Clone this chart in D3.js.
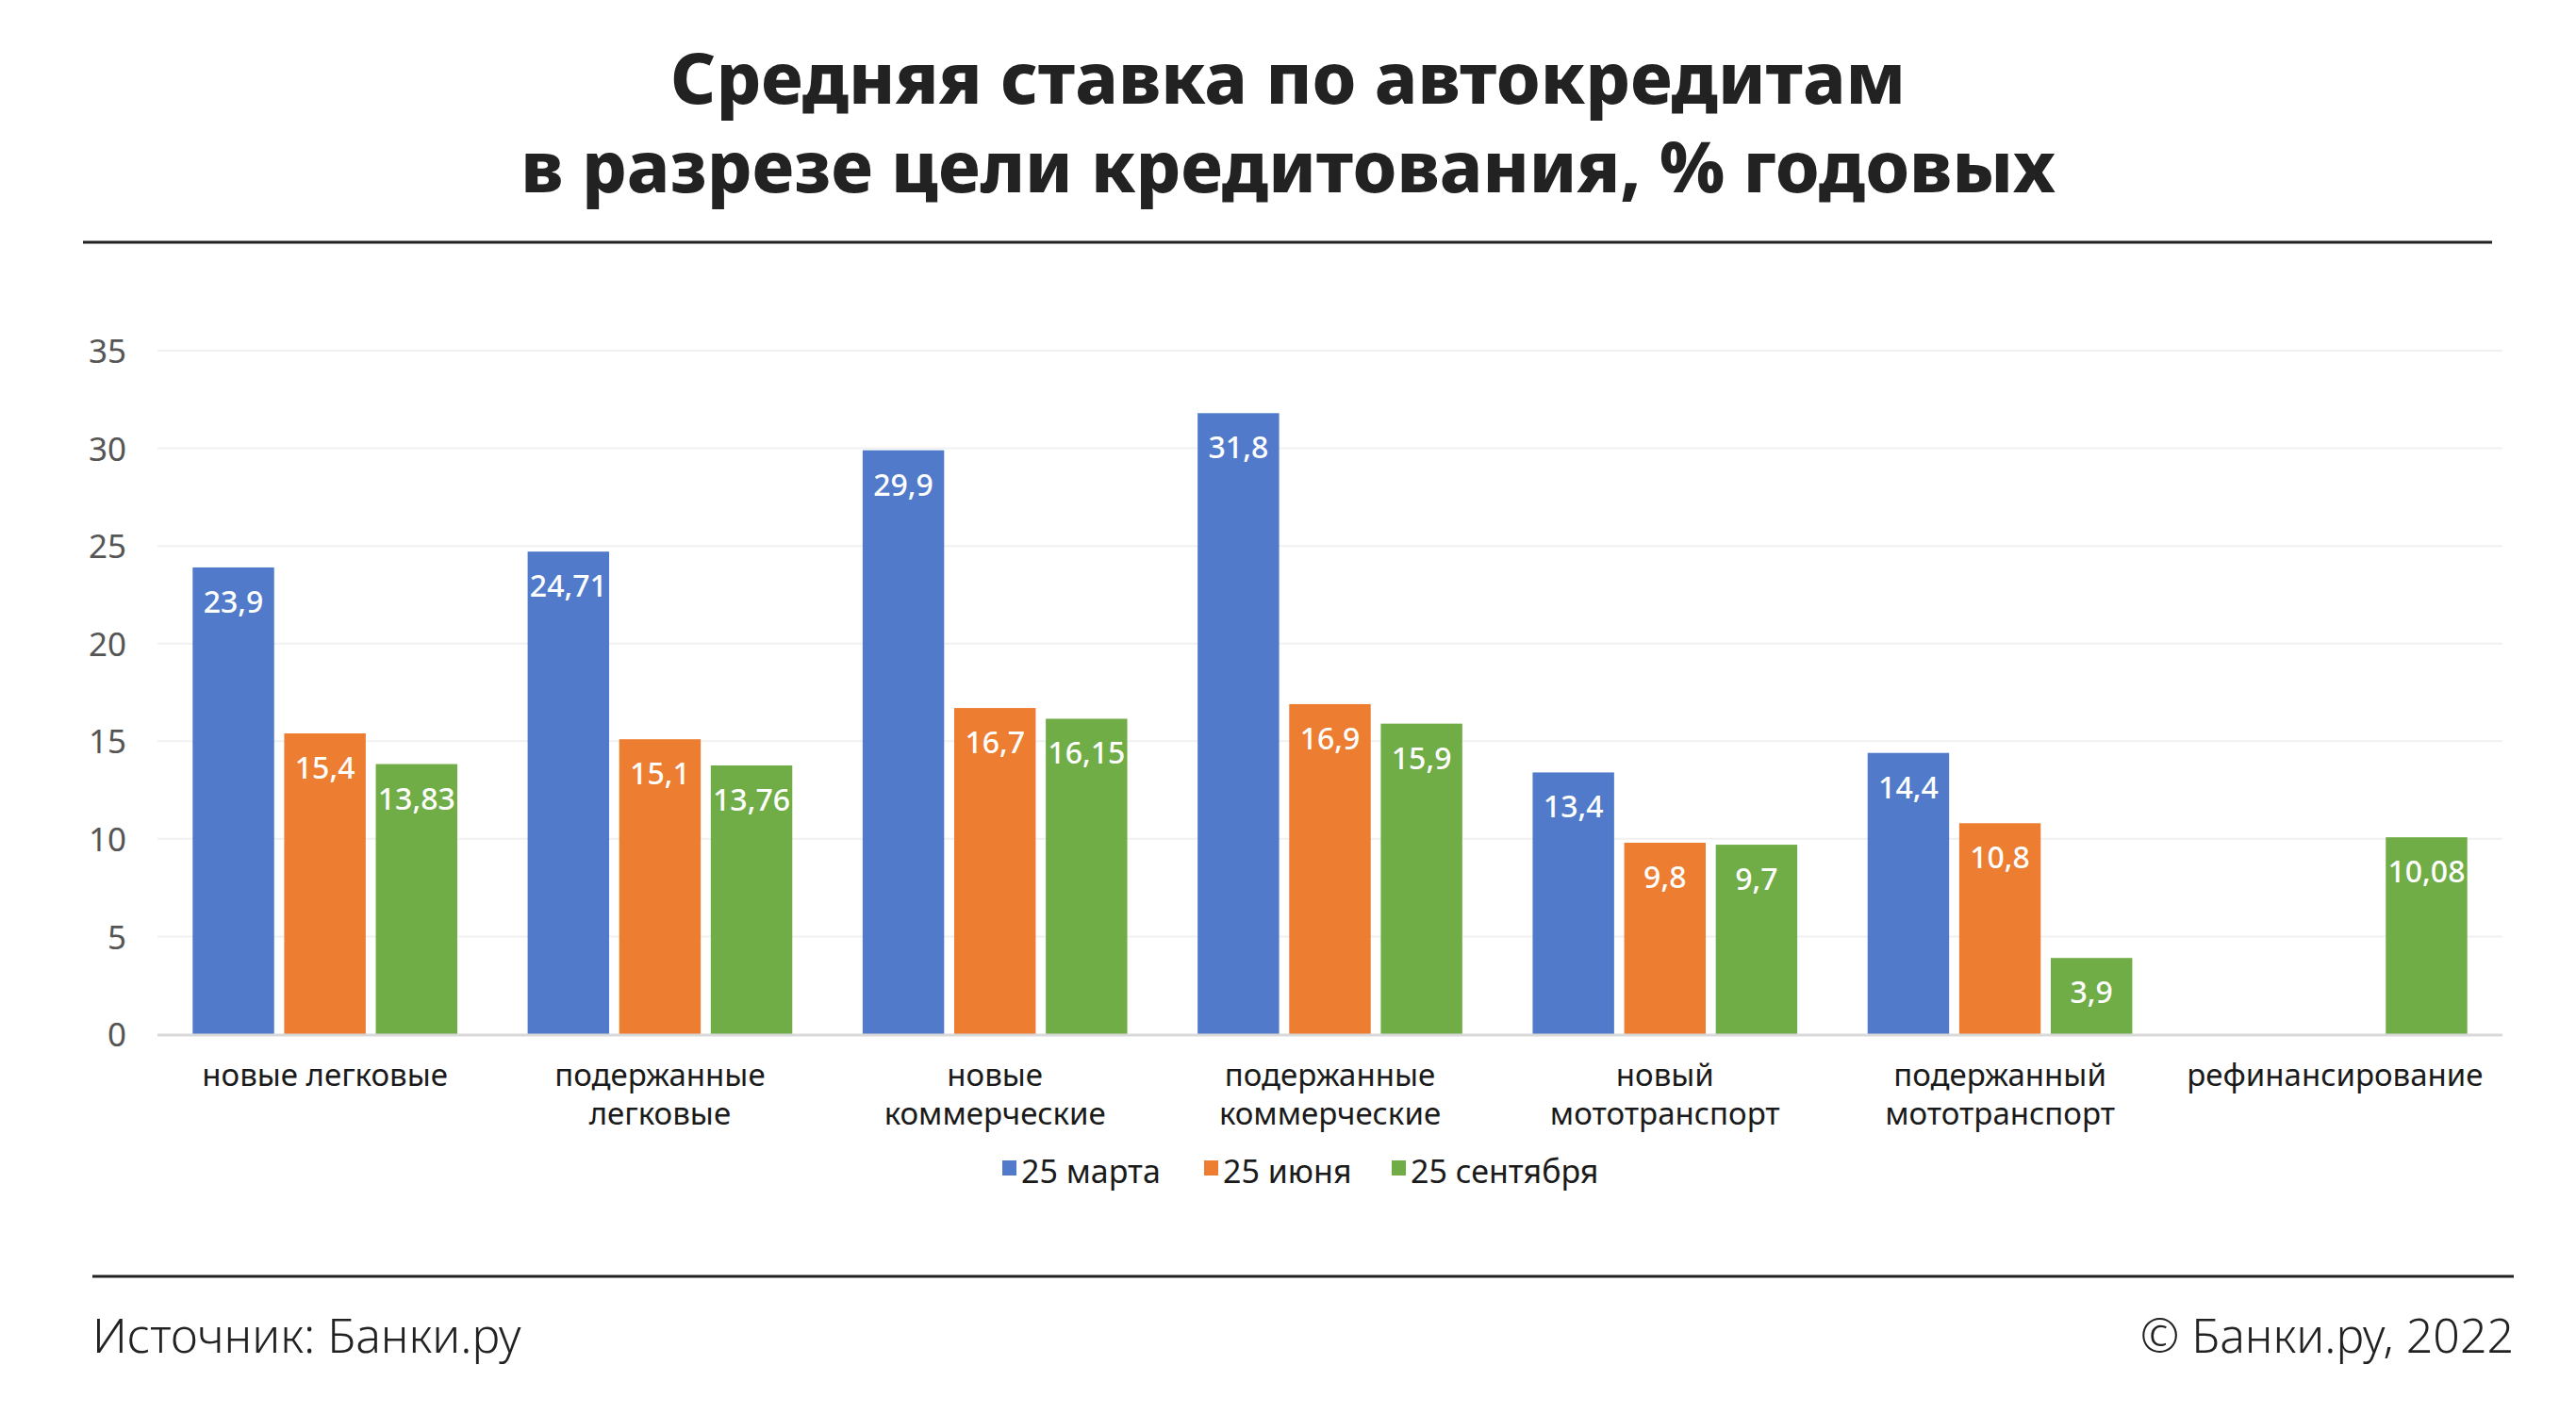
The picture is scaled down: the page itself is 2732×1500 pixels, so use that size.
<!DOCTYPE html>
<html>
<head>
<meta charset="utf-8">
<script src="https://cdn.jsdelivr.net/npm/d3@7"></script>
<style>
  html, body { margin: 0; padding: 0; background: #fff; }
  svg { display: block; }
</style>
</head>
<body>
<svg id="chart" width="2732" height="1500"></svg>
<script>
const titleLines = ["Средняя ставка по автокредитам", "в разрезе цели кредитования, % годовых"];
const categories = [
  ["новые легковые"],
  ["подержанные", "легковые"],
  ["новые", "коммерческие"],
  ["подержанные", "коммерческие"],
  ["новый", "мототранспорт"],
  ["подержанный", "мототранспорт"],
  ["рефинансирование"]
];
const seriesNames = ["25 марта", "25 июня", "25 сентября"];
const seriesColors = ["#517BCA", "#ED7D31", "#70AD47"];
const march = [23.9, 24.71, 29.9, 31.8, 13.4, 14.4, null];
const june = [15.4, 15.1, 16.7, 16.9, 9.8, 10.8, null];
const september = [13.83, 13.76, 16.15, 15.9, 9.7, 3.9, 10.08];
const yTicks = [0, 5, 10, 15, 20, 25, 30, 35];
const sourceText = "Источник: Банки.ру";
const copyrightText = "© Банки.ру, 2022";

const seriesValues = [march, june, september];
const FONT = "'Noto Sans', 'DejaVu Sans', sans-serif";
const svg = d3.select("#chart");

// Title
const titleG = svg.append("g");
titleLines.forEach((t, i) => {
  titleG.append("text")
    .attr("x", 1366).attr("y", 110 + i * 94)
    .attr("text-anchor", "middle")
    .attr("font-family", FONT)
    .attr("font-weight", 800)
    .attr("font-size", 75)
    .attr("fill", "#222")
    .text(t);
});
svg.append("line").attr("x1", 88).attr("x2", 2643).attr("y1", 257).attr("y2", 257)
  .attr("stroke", "#222").attr("stroke-width", 3);

// Scales
const x0 = d3.scaleBand().domain(d3.range(categories.length)).range([167, 2654])
  .paddingInner(0.21).paddingOuter(0.105);
const x1 = d3.scaleBand().domain(d3.range(seriesNames.length)).range([0, x0.bandwidth()])
  .paddingInner(0.11);
const y = d3.scaleLinear().domain([0, 35]).range([1097, 372]);

// Grid
svg.append("g").selectAll("line").data(yTicks.filter(d => d > 0)).join("line")
  .attr("x1", 167).attr("x2", 2654)
  .attr("y1", d => y(d)).attr("y2", d => y(d))
  .attr("stroke", "#f1f1f1").attr("stroke-width", 2);

// Y axis labels
const yAxis = d3.axisLeft(y).tickValues(yTicks).tickSize(0).tickPadding(0);
const yg = svg.append("g").attr("transform", "translate(134,0)").call(yAxis);
yg.select(".domain").remove();
yg.selectAll("text")
  .attr("font-family", FONT).attr("font-size", 35).attr("fill", "#555")
  .attr("dy", "0.36em");

// Bars
const data = [];
categories.forEach((c, ci) => {
  seriesValues.forEach((arr, si) => {
    if (arr[ci] != null) data.push({ ci, si, v: arr[ci] });
  });
});
const barsG = svg.append("g");
barsG.selectAll("rect").data(data).join("rect")
  .attr("x", d => x0(d.ci) + x1(d.si))
  .attr("width", x1.bandwidth())
  .attr("y", d => y(d.v))
  .attr("height", d => y(0) - y(d.v))
  .attr("fill", d => seriesColors[d.si]);

barsG.selectAll("text").data(data).join("text")
  .attr("x", d => x0(d.ci) + x1(d.si) + x1.bandwidth() / 2)
  .attr("y", d => y(d.v) + 48)
  .attr("text-anchor", "middle")
  .attr("font-family", FONT).attr("font-weight", 500).attr("font-size", 32)
  .attr("fill", "#fff")
  .text(d => String(d.v).replace(".", ","));

// Baseline
svg.append("line").attr("x1", 167).attr("x2", 2654).attr("y1", y(0) + 1).attr("y2", y(0) + 1)
  .attr("stroke", "#d9d9d9").attr("stroke-width", 3);

// Category labels (one text element per line)
const catG = svg.append("g");
const catLines = [];
categories.forEach((lines, ci) => lines.forEach((l, li) => catLines.push({ ci, li, l })));
catG.selectAll("text").data(catLines).join("text")
  .attr("x", d => x0(d.ci) + x0.bandwidth() / 2)
  .attr("y", d => 1152 + d.li * 41)
  .attr("text-anchor", "middle")
  .attr("font-family", FONT).attr("font-size", 33).attr("fill", "#1a1a1a")
  .text(d => d.l);

// Legend
const legendX = [1063, 1277, 1476];
const legG = svg.append("g");
seriesNames.forEach((s, i) => {
  legG.append("rect").attr("x", legendX[i]).attr("y", 1231).attr("width", 15).attr("height", 16)
    .attr("fill", seriesColors[i]);
  legG.append("text").attr("x", legendX[i] + 20).attr("y", 1255)
    .attr("font-family", FONT).attr("font-size", 34).attr("fill", "#1a1a1a")
    .text(s);
});

// Footer
svg.append("line").attr("x1", 98).attr("x2", 2666).attr("y1", 1354).attr("y2", 1354)
  .attr("stroke", "#222").attr("stroke-width", 3);
svg.append("text").attr("x", 98).attr("y", 1435)
  .attr("font-family", FONT).attr("font-weight", 300).attr("font-size", 50).attr("fill", "#222")
  .text(sourceText);
svg.append("text").attr("x", 2666).attr("y", 1435).attr("text-anchor", "end")
  .attr("font-family", FONT).attr("font-weight", 300).attr("font-size", 50).attr("fill", "#222")
  .text(copyrightText);
</script>
</body>
</html>
